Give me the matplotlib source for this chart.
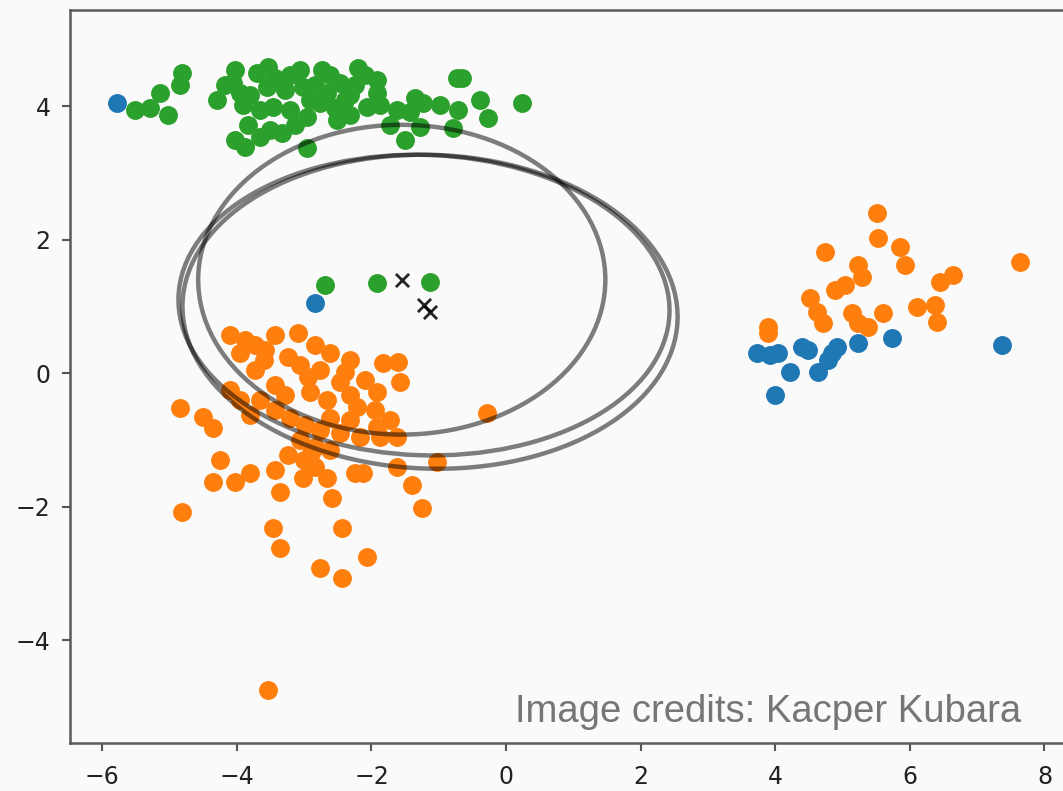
import matplotlib
matplotlib.use("Agg")
import matplotlib.pyplot as plt
from matplotlib.patches import Ellipse

# Cluster samples
blue_x = [-5.78, -2.84, 3.73, 3.92, 4.04, 4.22, 4.00, 4.40, 4.49, 4.64, 4.78,
          4.84, 4.92, 5.23, 5.74, 7.37]
blue_y = [4.04, 1.05, 0.30, 0.27, 0.30, 0.01, -0.33, 0.39, 0.34, 0.01, 0.19,
          0.30, 0.39, 0.45, 0.52, 0.42]

orange_x = [-4.10, -3.73, -3.43, -3.09, -3.95, -3.24, -2.62, -2.32, -1.83, -1.60,
            -3.73, -2.94, -3.43, -2.47, -1.58, -2.66, -2.21, -1.92, -4.10, -4.84,
            -4.50, -4.35, -0.28, -3.66, -3.43, -3.21, -2.99, -2.76, -2.47, -2.17,
            -1.87, -1.62, -3.06, -2.84, -2.62, -1.92, -4.25, -4.35, -4.03, -3.80,
            -3.43, -3.24, -3.36, -3.02, -2.84, -2.66, -2.59, -2.24, -2.12, -1.62,
            -1.03, -1.40, -1.25, -4.81, -3.46, -3.36, -2.44, -2.07, -2.76, -2.44,
            -3.54, -3.00, -2.90, -3.60,
            -3.88, -3.58, -2.84, -3.06, -2.76, -2.39, -2.10, -3.28, -2.91, -2.32,
            -1.95, -2.62, -3.80, -3.95, -1.72, -2.32,
            5.51, 5.53, 5.85, 5.93, 4.74, 5.23, 5.29, 4.89, 5.04, 4.52,
            4.62, 4.71, 3.89, 3.89, 5.14, 5.23, 5.38, 5.60, 6.11, 6.37,
            6.40, 6.45, 6.64, 7.64]
orange_y = [0.57, 0.42, 0.57, 0.60, 0.30, 0.24, 0.30, 0.19, 0.15, 0.16,
            0.04, -0.06, -0.18, -0.13, -0.13, -0.40, -0.51, -0.28, -0.25, -0.52,
            -0.66, -0.82, -0.60, -0.40, -0.55, -0.67, -0.78, -0.85, -0.90, -0.96,
            -0.96, -0.96, -1.00, -1.11, -1.15, -0.81, -1.30, -1.63, -1.63, -1.50,
            -1.45, -1.23, -1.78, -1.57, -1.41, -1.57, -1.87, -1.50, -1.50, -1.41,
            -1.33, -1.68, -2.02, -2.08, -2.32, -2.62, -2.32, -2.76, -2.92, -3.07,
            -4.75, -1.30, -1.20, 0.20,
            0.49, 0.34, 0.42, 0.12, 0.04, 0.01, -0.10, -0.33, -0.28, -0.33,
            -0.55, -0.67, -0.63, -0.40, -0.70, -0.70,
            2.40, 2.02, 1.89, 1.62, 1.81, 1.62, 1.44, 1.24, 1.32, 1.12,
            0.91, 0.75, 0.69, 0.60, 0.90, 0.75, 0.69, 0.90, 0.99, 1.02,
            0.76, 1.36, 1.47, 1.66]

green_x = [-5.51, -5.29, -5.14, -5.02, -4.81, -4.84, -4.29, -4.03, -4.06, -3.91,
           -3.70, -3.54, -3.55, -3.46, -3.06, -3.02, -2.96, -2.76, -3.83, -4.03,
           -3.88, -3.51, -3.33, -2.96, -2.20, -2.47, -2.66, -2.51, -1.92, -1.92,
           -2.07, -1.62, -1.23, -1.72, -1.50, -1.28, -0.73, -0.65, -0.71, -0.79,
           -0.39, -0.27, 0.24, -3.80, -3.28, -3.21, -2.62, -2.39, -2.24, -2.84,
           -3.66, -3.21, -2.32, -1.43,
           -3.95, -3.43, -2.91, -2.54, -2.10, -1.87, -3.14, -3.66, -4.18, -2.73,
           -2.32, -1.35, -0.98,
           -2.69, -1.92, -1.13]
green_y = [3.94, 3.97, 4.19, 3.87, 4.49, 4.31, 4.09, 4.54, 4.34, 4.01,
           4.49, 4.58, 4.28, 3.99, 4.54, 4.28, 3.84, 4.04, 3.72, 3.49,
           3.39, 3.64, 3.60, 3.37, 4.57, 4.34, 4.19, 3.79, 4.39, 4.19,
           3.99, 3.94, 4.04, 3.72, 3.49, 3.69, 4.42, 4.42, 3.94, 3.67,
           4.09, 3.82, 4.04, 4.16, 4.24, 3.94, 4.46, 4.09, 4.31, 4.31,
           3.94, 4.46, 3.87, 3.91,
           4.19, 4.42, 4.09, 3.97, 4.46, 4.01, 3.72, 3.54, 4.31, 4.54,
           4.16, 4.12, 4.01,
           1.32, 1.35, 1.36]

# Fitted mixture components: means and covariance ellipses
mean_x = [-1.55, -1.22, -1.13]
mean_y = [1.40, 1.02, 0.92]
ell_width = [6.05, 7.30, 7.36]
ell_height = [4.64, 4.50, 4.70]
ell_angle = [0.0, -2.0, -2.0]

W, H = 1063, 791
fig = plt.figure(figsize=(W / 100, H / 100), dpi=100, facecolor="#fafafa")
ax = fig.add_axes([70 / W, 48 / H, 998 / W, 733 / H])
ax.set_facecolor("#fafafa")

ax.scatter(blue_x, blue_y, s=185, color="#1f77b4", linewidths=0, zorder=2)
ax.scatter(orange_x, orange_y, s=185, color="#ff7f0e", linewidths=0, zorder=2)
ax.scatter(green_x, green_y, s=185, color="#2ca02c", linewidths=0, zorder=2)

for cx, cy, w, h, a in zip(mean_x, mean_y, ell_width, ell_height, ell_angle):
    ax.add_patch(Ellipse((cx, cy), w, h, angle=a, fill=False,
                         edgecolor="black", alpha=0.5, linewidth=3.2, zorder=3))

ax.scatter(mean_x, mean_y, marker="x", s=90, color="black", linewidths=2.0,
           alpha=0.85, zorder=4)

ax.set_xlim(-6.48, 8.35)
ax.set_ylim(-5.54, 5.44)
ax.set_xticks([-6, -4, -2, 0, 2, 4, 6, 8])
ax.set_yticks([-4, -2, 0, 2, 4])
ax.set_xticklabels(["\u22126", "\u22124", "\u22122", "0", "2", "4", "6", "8"])
ax.set_yticklabels(["\u22124", "\u22122", "0", "2", "4"])
ax.tick_params(labelsize=17, colors="#555555", labelcolor="#222222",
               length=6, width=1.5)
ax.tick_params(axis="x", pad=10)
ax.tick_params(axis="y", pad=8)
for side in ax.spines.values():
    side.set_color("#5a5a5a")
    side.set_linewidth(1.8)

fig.text(515 / W, (H - 722) / H, "Image credits: Kacper Kubara",
         fontsize=27.5, family="Liberation Sans", color="#767676",
         ha="left", va="baseline")

fig.savefig("out.png", dpi=100, facecolor=fig.get_facecolor())
